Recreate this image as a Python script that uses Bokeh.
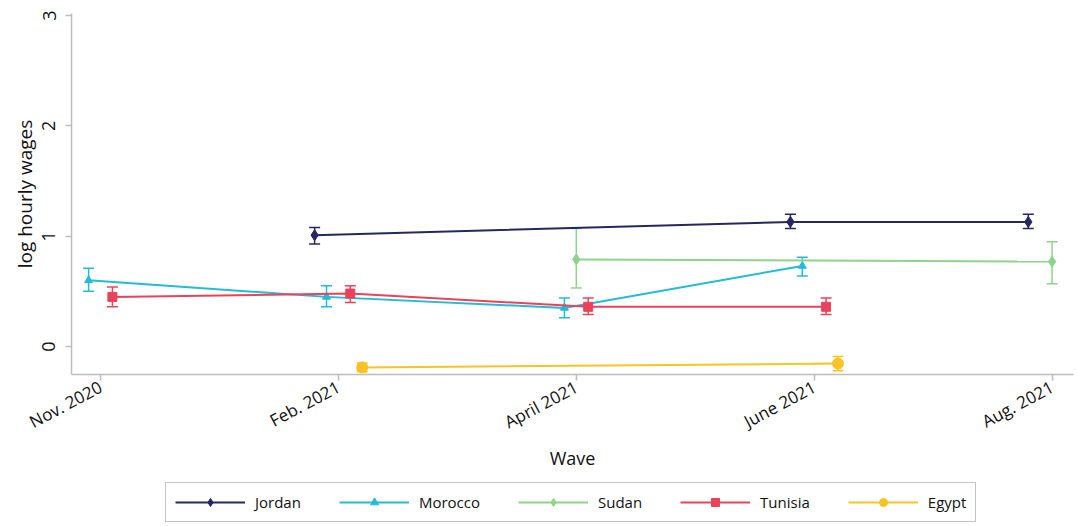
from bokeh.plotting import figure
from bokeh.layouts import column
from bokeh.models import (ColumnDataSource, Range1d, FixedTicker, Legend, LegendItem,
                          Whisker, TeeHead)
from bokeh.embed import file_html
from bokeh.resources import INLINE

# Survey waves (x axis categories)
waves = ["Nov. 2020", "Feb. 2021", "April 2021", "June 2021", "Aug. 2021"]
y_ticks = [0, 1, 2, 3]

# Mean log hourly wage with 95% confidence bounds, per country
jordan_wave = [1, 3, 4]
jordan_mean = [1.01, 1.13, 1.13]
jordan_lo = [0.93, 1.07, 1.07]
jordan_hi = [1.08, 1.20, 1.20]

morocco_wave = [0, 1, 2, 3]
morocco_mean = [0.60, 0.45, 0.35, 0.73]
morocco_lo = [0.50, 0.36, 0.26, 0.64]
morocco_hi = [0.71, 0.55, 0.44, 0.81]

sudan_wave = [2, 4]
sudan_mean = [0.79, 0.77]
sudan_lo = [0.53, 0.57]
sudan_hi = [1.07, 0.95]

tunisia_wave = [0, 1, 2, 3]
tunisia_mean = [0.45, 0.48, 0.36, 0.36]
tunisia_lo = [0.36, 0.40, 0.29, 0.29]
tunisia_hi = [0.54, 0.55, 0.44, 0.44]

egypt_wave = [1, 3]
egypt_mean = [-0.19, -0.155]
egypt_lo = [-0.23, -0.22]
egypt_hi = [-0.15, -0.09]

FONT = "Open Sans"

series = [
    ("Jordan", jordan_wave, jordan_mean, jordan_lo, jordan_hi, "#27275f", "diamond", 11, -0.10),
    ("Morocco", morocco_wave, morocco_mean, morocco_lo, morocco_hi, "#22bcd4", "triangle", 8, -0.05),
    ("Sudan", sudan_wave, sudan_mean, sudan_lo, sudan_hi, "#8fd48a", "diamond", 11, 0.0),
    ("Tunisia", tunisia_wave, tunisia_mean, tunisia_lo, tunisia_hi, "#e8435a", "square", 9, 0.05),
    ("Egypt", egypt_wave, egypt_mean, egypt_lo, egypt_hi, "#f7c325", "circle", 11, 0.10),
]

# Main chart
p = figure(width=1077, height=475, output_backend="svg", toolbar_location=None,
           x_range=Range1d(-0.122, 4.09), y_range=Range1d(-0.254, 3.02),
           min_border_left=71, min_border_right=4, min_border_top=13,
           min_border_bottom=101)

p.outline_line_color = None
p.xgrid.visible = False
p.ygrid.visible = False
p.background_fill_color = "white"
p.border_fill_color = "white"

sources = []
for name, wv, mean, lo, hi, color, marker, size, off in series:
    src = ColumnDataSource(dict(x=[w + off for w in wv], y=mean, lo=lo, hi=hi))
    sources.append(src)
    p.line("x", "y", source=src, line_color=color, line_width=2)
    wh = Whisker(source=src, base="x", upper="hi", lower="lo",
                 line_color=color, line_width=1.5,
                 upper_head=TeeHead(size=11, line_color=color, line_width=1.5),
                 lower_head=TeeHead(size=11, line_color=color, line_width=1.5))
    p.add_layout(wh)
    p.scatter("x", "y", source=src, marker=marker, size=size,
              fill_color=color, line_color=color)

p.xaxis.ticker = FixedTicker(ticks=list(range(len(waves))))
p.xaxis.major_label_overrides = {i: w for i, w in enumerate(waves)}
p.xaxis.major_label_orientation = 0.49
p.xaxis.axis_label = "Wave"
p.yaxis.ticker = FixedTicker(ticks=y_ticks)
p.yaxis.major_label_orientation = "vertical"
p.yaxis.axis_label = "log hourly wages"

for ax in (p.xaxis, p.yaxis):
    ax.axis_line_color = "#bdbdbd"
    ax.axis_line_width = 1.5
    ax.major_tick_line_color = "#bdbdbd"
    ax.major_tick_line_width = 1.5
    ax.major_tick_out = 6
    ax.major_tick_in = 0
    ax.minor_tick_line_color = None
    ax.major_label_text_font = FONT
    ax.major_label_text_color = "#111111"
    ax.axis_label_text_font = FONT
    ax.axis_label_text_font_style = "normal"
    ax.axis_label_text_color = "#111111"

p.xaxis.major_label_text_font_size = "17px"
p.yaxis.major_label_text_font_size = "18px"
p.xaxis.axis_label_text_font_size = "18px"
p.yaxis.axis_label_text_font_size = "19px"
p.yaxis.major_label_standoff = 10
p.xaxis.axis_label_standoff = 0
p.yaxis.axis_label_standoff = 2

# Legend strip underneath the chart; its ranges keep the shared data out of view,
# so only the legend swatches show.
lg = figure(width=1077, height=51, output_backend="svg", toolbar_location=None,
            x_axis_type=None, y_axis_type=None,
            x_range=Range1d(100, 101), y_range=Range1d(100, 101), min_border=0)
lg.outline_line_color = None
lg.xgrid.visible = False
lg.ygrid.visible = False

items = []
for (name, wv, mean, lo, hi, color, marker, size, off), src in zip(series, sources):
    ln = lg.line("x", "y", source=src, line_color=color, line_width=2)
    sc = lg.scatter("x", "y", source=src, marker=marker, size=size,
                    fill_color=color, line_color=color)
    items.append(LegendItem(label=name, renderers=[ln, sc]))

legend = Legend(items=items, orientation="horizontal", location=(94, 4),
                glyph_width=70, glyph_height=20, spacing=38, label_standoff=10,
                padding=9, margin=0,
                label_text_font=FONT, label_text_font_size="15px",
                label_text_color="#111111",
                border_line_color="#8a8a8a", border_line_width=1.5,
                background_fill_color="white", background_fill_alpha=1.0)
lg.add_layout(legend)

page = column(p, lg, spacing=0)
open("out.html", "w").write(file_html(page, INLINE))
